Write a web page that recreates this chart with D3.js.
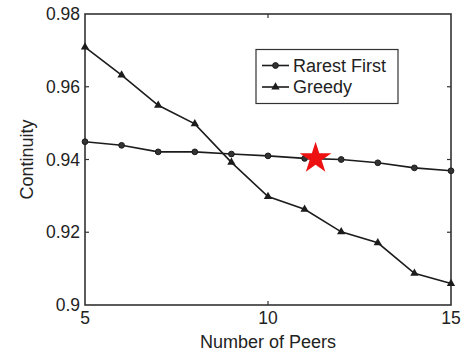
<!DOCTYPE html>
<html>
<head>
<meta charset="utf-8">
<script src="https://cdn.jsdelivr.net/npm/d3@7"></script>
<style>
  html, body { margin: 0; padding: 0; background: #fff; }
  svg { display: block; font-family: "Liberation Sans", Arial, Helvetica, sans-serif; }
</style>
</head>
<body>
<svg id="chart" width="465" height="353"></svg>
<script>
// Continuity vs. number of peers for two piece-selection strategies
const peers = [5, 6, 7, 8, 9, 10, 11, 12, 13, 14, 15];
const rarestFirst = [0.9449, 0.9439, 0.9421, 0.9421, 0.9415, 0.9410, 0.9403, 0.9400, 0.9391, 0.9377, 0.9369];
const greedy = [0.9709, 0.9632, 0.9549, 0.9498, 0.9392, 0.9298, 0.9263, 0.9201, 0.9171, 0.9087, 0.9059];
const xTicks = [5, 10, 15];
const yTicks = [0.9, 0.92, 0.94, 0.96, 0.98];
const highlight = { peers: 11.3, continuity: 0.9403 };
const seriesNames = ["Rarest First", "Greedy"];

const svg = d3.select("#chart");
const m = { left: 85, right: 451, top: 14, bottom: 305 };
const x = d3.scaleLinear().domain([5, 15]).range([m.left, m.right]);
const y = d3.scaleLinear().domain([0.9, 0.98]).range([m.bottom, m.top]);

const ink = "#1c1c1c";
const axisInk = "#333";
const fontSize = 17.5;

// Box frame
svg.append("rect")
  .attr("x", m.left).attr("y", m.top)
  .attr("width", m.right - m.left).attr("height", m.bottom - m.top)
  .attr("fill", "none").attr("stroke", axisInk).attr("stroke-width", 1.6);

// Inward ticks on all four sides
const tickLen = 4;
const inner = yTicks.filter(v => v > 0.9 && v < 0.98);
const innerX = xTicks.filter(v => v > 5 && v < 15);
const ticks = svg.append("g").attr("stroke", axisInk).attr("stroke-width", 1.2);
inner.forEach(v => {
  ticks.append("line").attr("x1", m.left).attr("x2", m.left + tickLen).attr("y1", y(v)).attr("y2", y(v));
  ticks.append("line").attr("x1", m.right).attr("x2", m.right - tickLen).attr("y1", y(v)).attr("y2", y(v));
});
innerX.forEach(v => {
  ticks.append("line").attr("y1", m.bottom).attr("y2", m.bottom - tickLen).attr("x1", x(v)).attr("x2", x(v));
  ticks.append("line").attr("y1", m.top).attr("y2", m.top + tickLen).attr("x1", x(v)).attr("x2", x(v));
});

// Tick labels
const yFmt = d => d === 0.9 ? "0.9" : d3.format(".2f")(d);
svg.append("g").selectAll("text").data(yTicks).join("text")
  .attr("x", m.left - 5).attr("y", d => y(d))
  .attr("dy", "0.35em").attr("text-anchor", "end")
  .attr("font-size", fontSize).attr("fill", "#222")
  .text(yFmt);

svg.append("g").selectAll("text").data(xTicks).join("text")
  .attr("x", d => x(d)).attr("y", m.bottom + 13)
  .attr("dy", "0.35em").attr("text-anchor", "middle")
  .attr("font-size", fontSize).attr("fill", "#222")
  .text(d => d);

// Axis titles
svg.append("text")
  .attr("x", (m.left + m.right) / 2).attr("y", 342)
  .attr("dy", "0.35em").attr("text-anchor", "middle")
  .attr("font-size", 18).attr("fill", "#222")
  .text("Number of Peers");

svg.append("text")
  .attr("transform", `translate(27,${(m.top + m.bottom) / 2}) rotate(-90)`)
  .attr("dy", "0.35em").attr("text-anchor", "middle")
  .attr("font-size", 18).attr("fill", "#222")
  .text("Continuity");

// Series lines
const line = d3.line().x((d, i) => x(peers[i])).y(d => y(d));
[rarestFirst, greedy].forEach(s => {
  svg.append("path").datum(s)
    .attr("d", line)
    .attr("fill", "none").attr("stroke", ink).attr("stroke-width", 1.6);
});

// Markers
const circleSym = d3.symbol().type(d3.symbolCircle).size(26);
const triSym = d3.symbol().type(d3.symbolTriangle).size(30);
svg.append("g").selectAll("path").data(rarestFirst).join("path")
  .attr("transform", (d, i) => `translate(${x(peers[i])},${y(d)})`)
  .attr("d", circleSym).attr("fill", "#333").attr("stroke", ink).attr("stroke-width", 1);
svg.append("g").selectAll("path").data(greedy).join("path")
  .attr("transform", (d, i) => `translate(${x(peers[i])},${y(d)})`)
  .attr("d", triSym).attr("fill", ink);

// Highlighted operating point
const star = d3.symbol().type(d3.symbolStar).size(310);
svg.append("path")
  .attr("transform", `translate(${x(highlight.peers)},${y(highlight.continuity)})`)
  .attr("d", star).attr("fill", "#ee1111");

// Legend
const lg = svg.append("g").attr("transform", "translate(256,49.5)");
lg.append("rect").attr("width", 142).attr("height", 54)
  .attr("fill", "#fff").attr("stroke", axisInk).attr("stroke-width", 1.2);
seriesNames.forEach((name, i) => {
  const cy = 16 + i * 21.5;
  lg.append("line").attr("x1", 6).attr("x2", 33).attr("y1", cy).attr("y2", cy)
    .attr("stroke", ink).attr("stroke-width", 1.6);
  lg.append("path").attr("transform", `translate(19.5,${cy})`)
    .attr("d", i === 0 ? circleSym : triSym).attr("fill", i === 0 ? "#333" : ink)
    .attr("stroke", i === 0 ? ink : "none");
  lg.append("text").attr("x", 37).attr("y", cy).attr("dy", "0.35em")
    .attr("font-size", 18).attr("fill", "#222").text(name);
});
</script>
</body>
</html>
